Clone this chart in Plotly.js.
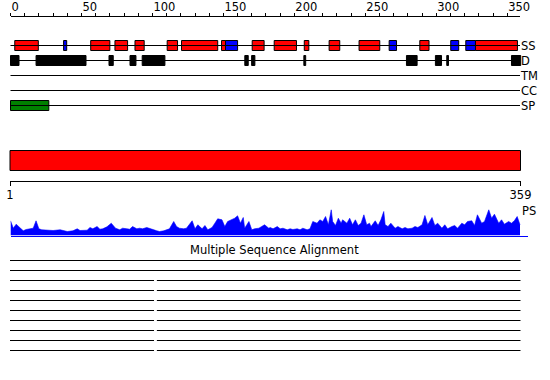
<!DOCTYPE html>
<html><head><meta charset="utf-8">
<script src="https://cdn.plot.ly/plotly-3.0.1.min.js"></script>
<style>html,body{margin:0;padding:0;background:#fff}#chart{width:550px;height:380px}</style>
</head><body><div id="chart"></div>
<script>
// ---------------- data ----------------
const proteinLength = 359;
const rowLabels = ['SS', 'D', 'TM', 'CC', 'SP'];
const helixStart = [3, 56.5, 73.6, 87.7, 110.4, 120.5, 148.7, 170.3, 185.8, 207, 224.5, 245.6, 288.4, 327.6];
const helixEnd   = [19.6, 70, 82.5, 94.2, 117.7, 146, 151.5, 178.7, 201.5, 210.2, 232, 260.2, 294.9, 357.2];
const strandStart = [37.4, 151.5, 266.8, 310.2, 320.8];
const strandEnd   = [39.6, 160, 272, 315.8, 327.6];
const disorderStart = [0, 18, 69.4, 84.2, 92.8, 165.1, 169.9, 206.7, 279, 299.4, 307.4, 353];
const disorderEnd   = [6, 53.2, 72.4, 88.4, 108.8, 167.5, 172.2, 208, 286.5, 303.7, 308.6, 359.5];
const tmStart = [], tmEnd = [];
const ccStart = [], ccEnd = [];
const signalStart = [0], signalEnd = [27];
const domainStart = [1], domainEnd = [359];
const rulerTicks = [0, 50, 100, 150, 200, 250, 300, 350];
const endTicks = [1, 359];
const psLabel = 'PS';
const psPos = [0,2,4,7,9,11,14,16,18,20,22,25,30,35,40,44,47,49,54,56,58,61,63,65,68,71,74,77,79,82,84,86,89,91,93,96,98,101,103,105,108,110,112,115,117,119,122,124,128,130,132,135,137,139,142,144,146,149,151,153,156,158,160,162,164,165,168,170,172,175,177,179,182,
  183,185,188,190,192,195,197,199,202,204,206,209,211,213,216,218,220,222,224,226,227,229,231,233,234,237,239,241,243,245,247,249,251,253,254,257,259,261,263,264,266,268,271,273,276,278,280,283,285,287,290,292,294,297,299,301,304,306,308,311,313,315,318,320,322,325,327,329,332,334,337,339,341,344,346,348,351,353,355,357,359];
const psScore = [14.7,7.3,11.3,6.7,4.7,6,6.7,7.3,14.7,6.7,5.7,5.3,5,5.7,4,4.7,6.7,5,5.3,8,6.7,9,6.3,6.7,8.7,12.3,7.3,5.7,7.3,6.7,6.3,9,6.7,7.3,6.7,8,7.3,5.7,4.7,4,4.7,5.7,6.7,14,9,7.3,6.7,7.3,14.7,6.7,10.7,6.7,10,5.7,8,12.3,16.7,15.7,9,14,15.7,17.3,19.7,12.3,18,7.3,14,5.7,6.7,7.3,9,10.7,7.3,
  8,6.7,9,6.7,7.3,5.7,6.7,6,6.7,5.7,7.3,5.7,6.7,14,12.3,15.7,14,19,10.7,25.7,14,10,17.3,12.3,15.7,12.3,17.3,10.7,15.7,10,12.3,20.7,10.7,12.3,9,14.7,10,15.7,24,10.7,9,12.3,7.3,9,6.7,8,6.7,7.3,9,8,10.7,20,10.7,18,10,12.3,7.3,10.7,6.7,9,10,7.3,12.3,10.7,14,14.7,10,20.7,12.3,14,25.7,17.3,21.3,12.3,15.7,11.3,14,12.3,14.7,19,10.7];
const msaTitle = 'Multiple Sequence Alignment';
const msaSegStart = [[1],[1],[1,104],[1,104],[1,104],[1,104],[1,104],[1,104],[1,104],[1,104]];
const msaSegEnd   = [[359],[359],[102,359],[102,359],[102,359],[102,359],[102,359],[102,359],[102,359],[102,359]];

// ---------------- layout helpers (pixel geometry) ----------------
const W = 550, H = 380;
const FONT = 'DejaVu Sans, Verdana, sans-serif';
const FS = 11.5;
const topPx0 = 10.5, topPx1 = 520;              // residue 0 .. proteinLength
const topScale = (topPx1 - topPx0) / proteinLength;
const botPx0 = 10, botPx1 = 520.5;              // residue 1 .. proteinLength
const botScale = (botPx1 - botPx0) / (proteinLength - 1);
const py = p => 1 - p / H;                       // pixel row -> paper fraction
const px = p => p / W;

function barTrace(starts, ends, row, color) {
  return {
    type: 'bar', orientation: 'h', xaxis: 'x', yaxis: 'y',
    y: starts.map(() => row), base: starts, x: starts.map((s, i) => ends[i] - s),
    width: 0.667, marker: {color: color, line: {color: '#000', width: 1}},
    hoverinfo: 'skip', showlegend: false
  };
}

const traces = [];
// row baselines
const rlx = [], rly = [];
rowLabels.forEach(r => { rlx.push(0, proteinLength, null); rly.push(r, r, null); });
traces.push({type: 'scatter', mode: 'lines', x: rlx, y: rly, xaxis: 'x', yaxis: 'y',
  line: {color: '#000', width: 1}, hoverinfo: 'skip', showlegend: false});
traces.push(barTrace(helixStart, helixEnd, 'SS', '#ff0000'));
traces.push(barTrace(strandStart, strandEnd, 'SS', '#0000ff'));
traces.push(barTrace(disorderStart, disorderEnd, 'D', '#000000'));
traces.push(barTrace(tmStart, tmEnd, 'TM', '#ffff00'));
traces.push(barTrace(ccStart, ccEnd, 'CC', '#00ffff'));
traces.push(barTrace(signalStart, signalEnd, 'SP', '#008000'));
// dummy for top ruler
traces.push({type: 'scatter', mode: 'markers', x: [0, proteinLength], y: ['SS', 'SS'],
  xaxis: 'x3', yaxis: 'y', marker: {opacity: 0}, hoverinfo: 'skip', showlegend: false});
// whole-protein domain bar
traces.push({type: 'bar', orientation: 'h', xaxis: 'x2', yaxis: 'y3', y: domainStart.map(() => 0),
  base: domainStart, x: domainStart.map((s, i) => domainEnd[i] - s), width: 1,
  marker: {color: '#ff0000', line: {color: '#000', width: 1}}, hoverinfo: 'skip', showlegend: false});
// dummy for bottom ruler
traces.push({type: 'scatter', mode: 'markers', x: endTicks, y: [0, 0],
  xaxis: 'x4', yaxis: 'y3', marker: {opacity: 0}, hoverinfo: 'skip', showlegend: false});
// PS profile
traces.push({type: 'scatter', mode: 'lines', x: psPos, y: psScore, xaxis: 'x5', yaxis: 'y4',
  fill: 'tozeroy', fillcolor: '#0000ff', line: {color: '#0000ff', width: 0.6},
  hoverinfo: 'skip', showlegend: false});
// MSA lines
const mx = [], my = [];
msaSegStart.forEach((segs, i) => segs.forEach((s, j) => {
  mx.push(s, msaSegEnd[i][j], null); my.push(i + 1, i + 1, null);
}));
traces.push({type: 'scatter', mode: 'lines', x: mx, y: my, xaxis: 'x2', yaxis: 'y5',
  line: {color: '#000', width: 1}, hoverinfo: 'skip', showlegend: false});

const hidden = {visible: false, fixedrange: true};
const layout = {
  width: W, height: H, margin: {l: 0, r: 0, t: 0, b: 0, pad: 0},
  paper_bgcolor: '#fff', plot_bgcolor: 'rgba(0,0,0,0)', showlegend: false,
  font: {family: FONT, size: FS, color: '#000'},
  barmode: 'overlay',
  xaxis: Object.assign({domain: [0, 1], range: [-topPx0 / topScale, (W - topPx0) / topScale], anchor: 'y'}, hidden),
  xaxis2: Object.assign({domain: [0, 1], range: [1 - botPx0 / botScale, 1 + (W - botPx0) / botScale], anchor: 'y3'}, hidden),
  xaxis3: {domain: [px(topPx0), px(topPx1)], range: [0, proteinLength], anchor: 'free', position: py(15.5),
    side: 'top', showline: true, linecolor: '#000', linewidth: 1, ticks: 'outside', ticklen: 3,
    tickcolor: '#000', tickwidth: 1, tickmode: 'array', tickvals: rulerTicks,
    ticktext: rulerTicks.map(String), ticklabelposition: 'outside right',
    minor: {tickmode: 'array', tickvals: Array.from({length: 36}, (_, i) => i * 10), ticks: 'outside', ticklen: 3, tickcolor: '#000', tickwidth: 1},
    showgrid: false, zeroline: false, fixedrange: true, tickfont: {family: FONT, size: FS, color: '#000'}},
  xaxis4: {domain: [px(botPx0), px(botPx1)], range: [1, proteinLength], anchor: 'free', position: py(180.5),
    side: 'bottom', showline: true, linecolor: '#000', linewidth: 1, ticks: 'outside', ticklen: 4,
    tickcolor: '#000', tickwidth: 1, tickmode: 'array', tickvals: endTicks, ticktext: endTicks.map(String),
    showgrid: false, zeroline: false, fixedrange: true, tickfont: {family: FONT, size: FS, color: '#000'}},
  xaxis5: {domain: [px(topPx0), px(528)], range: [0, (528 - topPx0) / topScale], anchor: 'y4',
    showline: true, linecolor: '#0000ff', linewidth: 1, ticks: '', showticklabels: false,
    showgrid: false, zeroline: false, fixedrange: true},
  yaxis: {domain: [py(113), py(38)], type: 'category', categoryorder: 'array', categoryarray: rowLabels,
    range: [4.5, -0.5], anchor: 'free', position: px(topPx1), side: 'right', ticks: '',
    showgrid: false, zeroline: false, showline: false, fixedrange: true,
    tickfont: {family: FONT, size: FS, color: '#000'}},
  yaxis3: Object.assign({domain: [py(174.5), py(146.5)], range: [-0.7, 0.7], anchor: 'x2'}, hidden),
  yaxis4: Object.assign({domain: [py(235.5), py(205)], range: [0, 30.5], anchor: 'x5'}, hidden),
  yaxis5: Object.assign({domain: [py(355.5), py(255.5)], range: [10.5, 0.5], anchor: 'x2'}, hidden),
  annotations: [
    {text: psLabel, xref: 'paper', yref: 'paper', x: px(520), y: py(211), xanchor: 'left', yanchor: 'middle',
      showarrow: false, font: {family: FONT, size: FS, color: '#000'}},
    {text: msaTitle, xref: 'paper', yref: 'paper', x: px(274), y: py(250), xanchor: 'center', yanchor: 'middle',
      showarrow: false, font: {family: FONT, size: FS, color: '#000'}}
  ]
};
Plotly.newPlot('chart', traces, layout, {staticPlot: true, displayModeBar: false});
</script></body></html>
